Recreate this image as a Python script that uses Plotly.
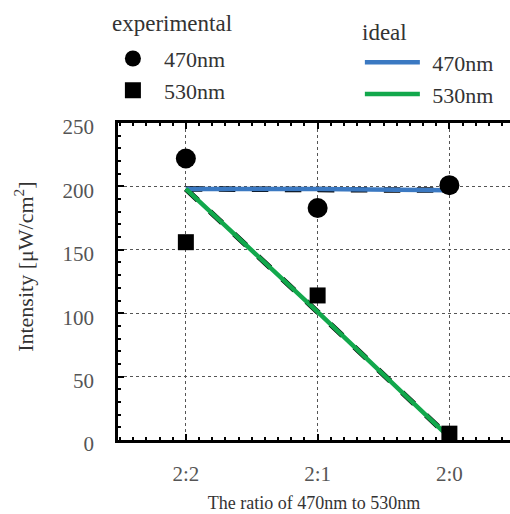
import plotly.graph_objects as go

categories = ["2:2", "2:1", "2:0"]
x_pos = [0, 1, 2]
exp_470 = [222, 183, 201]
exp_530 = [156, 114, 5]
ideal_470 = [198, 198, 197]
ideal_530 = [198, 101, 2]

FONT = "Liberation Serif"
BLUE = "#3b79c2"
GREEN = "#12a84c"
TXT = "#333"
LEG = 22

fig = go.Figure()

# black dashed underlays of ideal lines
for ys in (ideal_470, ideal_530):
    fig.add_trace(go.Scatter(x=x_pos, y=ys, mode="lines",
                             line=dict(color="black", width=5.5, dash="dash"),
                             showlegend=False, hoverinfo="skip"))

fig.add_trace(go.Scatter(x=x_pos, y=ideal_470, mode="lines", name=" \u200a470nm",
                         line=dict(color=BLUE, width=4.5),
                         legend="legend2", legendgroup="i470"))
fig.add_trace(go.Scatter(x=x_pos, y=ideal_530, mode="lines", name=" \u200a530nm",
                         line=dict(color=GREEN, width=4.5),
                         legend="legend2", legendgroup="i530"))

fig.add_trace(go.Scatter(x=x_pos, y=exp_470, mode="markers", name="  470nm",
                         marker=dict(symbol="circle", size=20, color="black"),
                         legend="legend", legendgroup="e470"))
fig.add_trace(go.Scatter(x=x_pos, y=exp_530, mode="markers", name="  530nm",
                         marker=dict(symbol="square", size=16, color="black"),
                         legend="legend", legendgroup="e530"))

axis_common = dict(
    showline=True, linecolor="black", linewidth=2.5,
    ticks="inside", ticklen=6, tickwidth=2, tickcolor="black",
    showgrid=True, gridcolor="#555", griddash="dot", gridwidth=1,
    zeroline=False,
    tickfont=dict(family=FONT, size=21, color="#555"),
)

fig.update_layout(
    width=510, height=514,
    margin=dict(l=118, r=0, t=123, b=74),
    paper_bgcolor="white", plot_bgcolor="white",
    font=dict(family=FONT, size=18, color=TXT),
    xaxis=dict(
        **axis_common,
        range=[-0.515, 2.46],
        tickmode="array", tickvals=x_pos, ticktext=categories,
        mirror="allticks",
        minor=dict(dtick=0.1, tick0=0, ticks="inside", ticklen=3,
                   tickwidth=1.5, tickcolor="black", showgrid=False),
        ticklabelstandoff=13,
        title=dict(text="The ratio of 470nm to 530nm",
                   font=dict(family=FONT, size=18, color=TXT), standoff=12),
    ),
    yaxis=dict(
        **axis_common,
        range=[0, 250],
        tickmode="array", tickvals=[0, 50, 100, 150, 200, 250],
        minor=dict(dtick=10, tick0=0, ticks="inside", ticklen=3,
                   tickwidth=1.5, tickcolor="black", showgrid=False),
        ticklabelstandoff=17, ticklabelshift=4,
    ),
    legend=dict(
        x=-0.013, y=1.269, xanchor="left", yanchor="top",
        xref="paper", yref="paper",
        font=dict(family=FONT, size=LEG, color=TXT),
        bgcolor="rgba(0,0,0,0)", tracegroupgap=0,
    ),
    legend2=dict(
        x=0.617, y=1.257, xanchor="left", yanchor="top",
        font=dict(family=FONT, size=LEG, color=TXT),
        bgcolor="rgba(0,0,0,0)", tracegroupgap=0, itemwidth=55,
    ),
    annotations=[
        dict(text="experimental", x=0.139, y=1.315, xref="paper", yref="paper",
             xanchor="center", yanchor="middle",
             showarrow=False, font=dict(family=FONT, size=23, color=TXT)),
        dict(text="ideal", x=0.681, y=1.287, xref="paper", yref="paper",
             xanchor="center", yanchor="middle",
             showarrow=False, font=dict(family=FONT, size=23, color=TXT)),
        dict(text="Intensity [μW/cm<sup>2</sup>]", x=-0.24, y=0.546,
             xref="paper", yref="paper", xanchor="center", yanchor="middle",
             textangle=-90, showarrow=False,
             font=dict(family=FONT, size=22, color=TXT)),
    ],
)

fig.write_html("out.html")
